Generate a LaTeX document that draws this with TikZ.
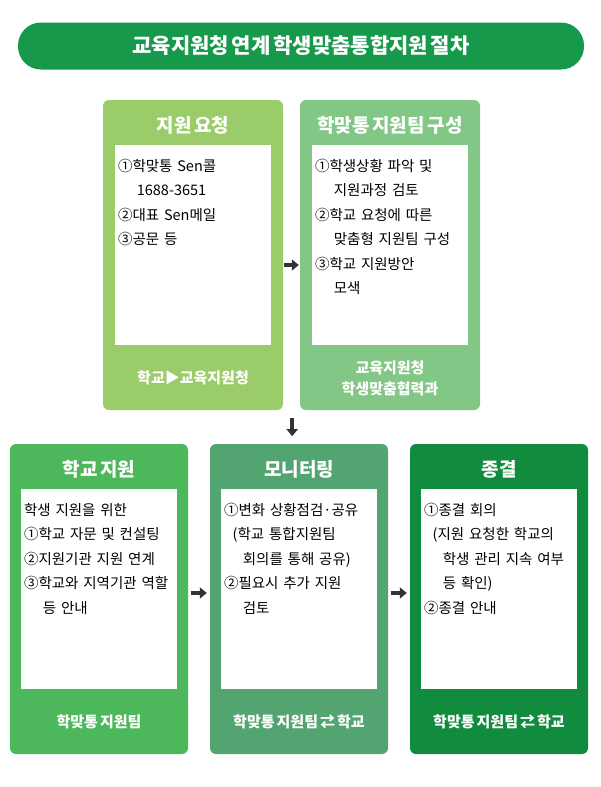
\documentclass[tikz,border=0pt]{standalone}
\usepackage{fontspec}
\setmainfont[WordSpace=0.6]{Noto Sans CJK KR}
\usetikzlibrary{positioning,arrows.meta}
\definecolor{titlegreen}{HTML}{16994A}
\definecolor{gA}{HTML}{9ACD69}
\definecolor{gB}{HTML}{82C785}
\definecolor{gC}{HTML}{4DB85B}
\definecolor{gD}{HTML}{52A570}
\definecolor{gE}{HTML}{118C3F}
\tikzset{
  box/.style={rounded corners=6pt, minimum width=180pt, minimum height=310pt, inner sep=0pt},
  inner/.style={fill=white, minimum width=156pt, minimum height=200pt, inner sep=0pt},
  head/.style={text=white, font=\fontsize{19}{21}\selectfont\bfseries},
  body/.style={align=left, anchor=north west, text width=156pt, inner sep=0pt, font=\fontsize{14.5}{24.5}\selectfont},
  foot/.style={text=white, align=center, font=\fontsize{15}{21}\selectfont\bfseries},
  flow/.style={-{Triangle[length=7pt,width=11pt]}, line width=4.5pt, black!80}
}
\begin{document}
\begin{tikzpicture}[x=1pt,y=-1pt]
\useasboundingbox (0,0) rectangle (600,787);
% title
\node (title) [fill=titlegreen, rounded corners=23pt, minimum width=566pt, minimum height=47pt,
  text=white, font=\fontsize{21}{23}\selectfont\bfseries] at (301,46) {교육지원청 연계 학생맞춤통합지원 절차};
% top row
\node (b1) [box, fill=gA] at (193,255) {};
\node (b2) [box, fill=gB] at (390,255) {};
\node (i1) [inner] at (193,245) {};
\node (i2) [inner] at (390,245) {};
\node [head] at (193,125) {지원 요청};
\node [head] at (390,125) {학맞통 지원팀 구성};
\node [body] at ([xshift=3pt,yshift=-14pt]i1.north west) {①학맞통 Sen콜\\\hspace{1.3em}1688-3651\\②대표 Sen메일\\③공문 등};
\node [body] at ([xshift=3pt,yshift=-14pt]i2.north west) {①학생상황 파악 및\\\hspace{1.3em}지원과정 검토\\②학교 요청에 따른\\\hspace{1.3em}맞춤형 지원팀 구성\\③학교 지원방안\\\hspace{1.3em}모색};
\node [foot] at (193,378) {학교▶교육지원청};
\node [foot] at (390,378) {교육지원청\\학생맞춤협력과};
% bottom row
\node (b3) [box, minimum width=178pt, fill=gC] at (99,599) {};
\node (b4) [box, minimum width=178pt, fill=gD] at (299,599) {};
\node (b5) [box, minimum width=178pt, fill=gE] at (499,599) {};
\node (i3) [inner] at (99,589) {};
\node (i4) [inner] at (299,589) {};
\node (i5) [inner] at (499,589) {};
\node [head] at (99,469) {학교 지원};
\node [head] at (299,469) {모니터링};
\node [head] at (499,469) {종결};
\node [body] at ([xshift=3pt,yshift=-14pt]i3.north west) {학생 지원을 위한\\①학교 자문 및 컨설팅\\②지원기관 지원 연계\\③학교와 지역기관 역할\\\hspace{1.3em}등 안내};
\node [body] at ([xshift=3pt,yshift=-14pt]i4.north west) {①변화 상황점검·공유\\\hspace{0.6em}(학교 통합지원팀\\\hspace{1.3em}회의를 통해 공유)\\②필요시 추가 지원\\\hspace{1.3em}검토};
\node [body] at ([xshift=3pt,yshift=-14pt]i5.north west) {①종결 회의\\\hspace{0.6em}(지원 요청한 학교의\\\hspace{1.3em}학생 관리 지속 여부\\\hspace{1.3em}등 확인)\\②종결 안내};
\node [foot] at (99,722) {학맞통 지원팀};
\node [foot] at (299,722) {학맞통 지원팀 ⇄ 학교};
\node [foot] at (499,722) {학맞통 지원팀 ⇄ 학교};
% arrows
\draw [flow] ([xshift=1pt,yshift=-10pt]b1.east) -- ([xshift=-1pt,yshift=-10pt]b2.west);
\draw [flow] ([xshift=9pt,yshift=-8pt]b1.south east) -- ([xshift=9pt,yshift=-26pt]b1.south east);
\draw [flow] ([xshift=3pt,yshift=6pt]b3.east) -- ([xshift=-3pt,yshift=6pt]b4.west);
\draw [flow] ([xshift=3pt,yshift=6pt]b4.east) -- ([xshift=-3pt,yshift=6pt]b5.west);
\end{tikzpicture}
\end{document}
